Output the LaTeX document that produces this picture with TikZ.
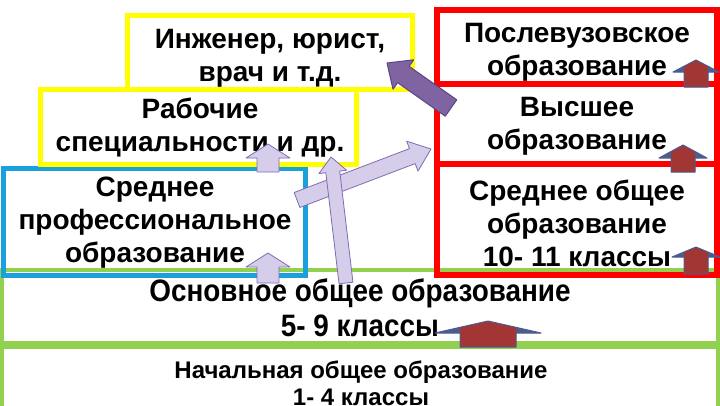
\documentclass[tikz,border=0pt]{standalone}
\usepackage{fontspec}
\setmainfont{Liberation Sans}
\newfontfamily\narrowfont[FakeStretch=0.9]{Liberation Sans}
\usetikzlibrary{calc}

\definecolor{boxyellow}{HTML}{FFFF00}
\definecolor{boxred}{HTML}{FF0000}
\definecolor{boxblue}{HTML}{1AA0DC}
\definecolor{boxgreen}{HTML}{92D050}
\definecolor{arrdark}{HTML}{8064A2}
\definecolor{arrdarkline}{HTML}{5A4585}
\definecolor{arrlight}{HTML}{D6CDEB}
\definecolor{arrlightline}{HTML}{7E6DB0}
\definecolor{arrcore}{HTML}{A13634}
\definecolor{arrwing}{HTML}{4D5C8E}

\tikzset{
	ybox/.style={draw=boxyellow, line width=5pt},
	rbox/.style={draw=boxred, line width=6pt},
	bbox/.style={draw=boxblue, line width=5pt},
	gbox/.style={draw=boxgreen, line width=4.5pt},
	txt/.style={align=center, inner sep=0pt, font=\bfseries\fontsize{28}{33}\selectfont},
	darkarr/.style={fill=arrdark, draw=arrdarkline, line width=1pt, line join=round},
	lightarr/.style={fill=arrlight, draw=arrlightline, line width=0.8pt, line join=round},
}

% tail, tip, half shaft, half head, head length
\newcommand{\blockarrow}[6]{%
	\coordinate (ah) at ($(#3)!#6pt!(#2)$);
	\path[#1] ($(#2)!#4pt!90:(#3)$) -- ($(ah)!#4pt!90:(#3)$) -- ($(ah)!#5pt!90:(#3)$) -- (#3)
		-- ($(ah)!#5pt!-90:(#3)$) -- ($(ah)!#4pt!-90:(#3)$) -- ($(#2)!#4pt!-90:(#3)$) -- cycle;
}
\newcommand{\duoarrow}[5]{%
	\blockarrow{fill=arrwing}{#1}{#2}{#3}{#4}{#5}
	\begin{scope}
		\clip ($(#1)+(-#3,0)$) rectangle ($(#2)+(#3,0)$);
		\blockarrow{fill=arrcore}{#1}{#2}{#3}{#4}{#5}
	\end{scope}
	\blockarrow{draw=arrwing, line width=1pt, line join=round}{#1}{#2}{#3}{#4}{#5}
}

\begin{document}
\begin{tikzpicture}[x=1pt,y=-1pt]
\useasboundingbox[fill=white] (0,0) rectangle (720,405);

% frames
\draw[gbox] (2,270) rectangle (718,343);
\draw[gbox] (2,347) rectangle (718,412);
\draw[bbox] (3,168) rectangle (305,275.5);
\draw[rbox] (437,10) rectangle (717,84);
\draw[rbox] (437,84) rectangle (717,164);
\draw[rbox] (437,164) rectangle (717,275);
\draw[ybox] (127,15) rectangle (412,89);
\draw[ybox] (40,89) rectangle (356,164);

% texts
\node[txt] (eng) at (270,58) {Инженер, юрист,\\врач и т.д.};
\node[txt] (rab) at (200,128) {Рабочие\\специальности и др.};
\node[txt] (pvo) at (577,52) {Послевузовское\\образование};
\node[txt] (vo) at (577,126) {Высшее\\образование};
\node[txt] (sog) at (577,223) {Среднее общее\\образование\\10- 11 классы};
\node[txt] (spo) at (155,223) {Среднее\\профессиональное\\образование};
\node[txt, font=\narrowfont\bfseries\fontsize{31}{35}\selectfont] (oog) at (360,308) {Основное общее образование\\5- 9 классы};
\node[txt, font=\bfseries\fontsize{24}{27}\selectfont] (nog) at (361,383) {Начальная общее образование\\1- 4 классы};

% arrows
\coordinate (a1) at (451,108);
\coordinate (a2) at (387,63);
\blockarrow{darkarr}{a1}{a2}{10}{18}{20}

\coordinate (d1) at (297,200);
\coordinate (d2) at (431,149);
\blockarrow{lightarr}{d1}{d2}{8}{16}{20}
\coordinate (t1) at (346,283);
\coordinate (t2) at (331,157);
\blockarrow{lightarr}{t1}{t2}{7}{14}{15}
\coordinate (l1) at (268,172);
\coordinate (l2) at (268,144);
\blockarrow{lightarr}{l1}{l2}{11}{22}{14}
\coordinate (m1) at (268,283);
\coordinate (m2) at (268,253);
\blockarrow{lightarr}{m1}{m2}{11}{22}{14}

\coordinate (c1) at (488,347);
\coordinate (c2) at (488,321);
\duoarrow{c1}{c2}{28}{53}{12}
\coordinate (e1) at (696,274);
\coordinate (e2) at (696,247);
\duoarrow{e1}{e2}{12}{24}{10}
\coordinate (f1) at (683,172);
\coordinate (f2) at (683,145);
\duoarrow{f1}{f2}{12}{24}{13}
\coordinate (g1) at (696,87);
\coordinate (g2) at (696,60);
\duoarrow{g1}{g2}{12}{23}{12}
\end{tikzpicture}
\end{document}
